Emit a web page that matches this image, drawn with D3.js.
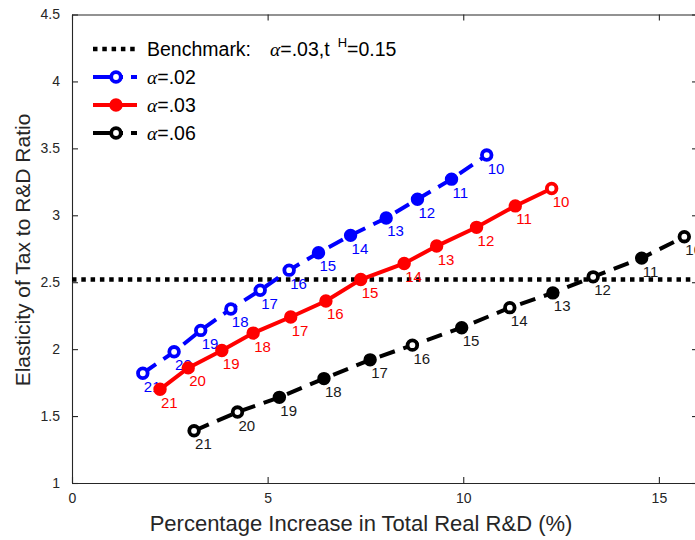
<!DOCTYPE html>
<html>
<head>
<meta charset="utf-8">
<script src="https://cdn.jsdelivr.net/npm/d3@7"></script>
<style>
  body { margin: 0; background: #fff; }
  svg { display: block; }
  text { font-family: "Liberation Sans", Arial, Helvetica, sans-serif; }
</style>
</head>
<body>
<svg id="svg" width="695" height="540"></svg>
<script>
// period labels shown next to each point
const periods = [21, 20, 19, 18, 17, 16, 15, 14, 13, 12, 11, 10]

// alpha = .02
const blueX = [1.81, 2.61, 3.29, 4.06, 4.81, 5.55, 6.30, 7.12, 8.03, 8.83, 9.70, 10.60]
const blueY = [1.82, 1.98, 2.14, 2.30, 2.44, 2.59, 2.72, 2.85, 2.98, 3.12, 3.27, 3.45]
// alpha = .03
const redX = [2.25, 2.97, 3.83, 4.63, 5.59, 6.49, 7.38, 8.49, 9.32, 10.34, 11.33, 12.26]
const redY = [1.70, 1.86, 1.99, 2.12, 2.24, 2.36, 2.52, 2.64, 2.77, 2.91, 3.07, 3.20]
// alpha = .06
const blackX = [3.12, 4.23, 5.30, 6.44, 7.62, 8.70, 9.96, 11.19, 12.29, 13.32, 14.56, 15.65]
const blackY = [1.39, 1.53, 1.64, 1.78, 1.92, 2.03, 2.16, 2.31, 2.42, 2.54, 2.68, 2.84]

// points whose marker shows an open centre in the picture
const blueOpen = [21, 20, 19, 18, 17, 16, 10]
const redOpen = [10]
const blackOpen = [21, 20, 16, 14, 12, 10]

const benchmark = 2.52

const xTicks = [0, 5, 10, 15]
const yTicks = [1, 1.5, 2, 2.5, 3, 3.5, 4, 4.5]

const svg = d3.select("#svg")
const padL = 72, padR = 698, padT = 14.5, padB = 483
const axisColor = "#262626"

const x = d3.scaleLinear().domain([0, 16]).range([padL, padR])
const y = d3.scaleLinear().domain([1, 4.5]).range([padB, padT])

// axes box with inward ticks
const tickFmt = d => d3.format("")(d)
svg.append("g").attr("transform", `translate(0,${padB})`)
  .call(d3.axisBottom(x).tickValues(xTicks).tickSizeInner(-6).tickSizeOuter(0).tickPadding(10).tickFormat(tickFmt))
svg.append("g").attr("transform", `translate(0,${padT})`)
  .call(d3.axisTop(x).tickValues(xTicks).tickSizeInner(-6).tickSizeOuter(0).tickFormat(""))
svg.append("g").attr("transform", `translate(${padL},0)`)
  .call(d3.axisLeft(y).tickValues(yTicks).tickSizeInner(-6).tickSizeOuter(0).tickPadding(12).tickFormat(tickFmt))
svg.append("g").attr("transform", `translate(${padR},0)`)
  .call(d3.axisRight(y).tickValues(yTicks).tickSizeInner(-6).tickSizeOuter(0).tickFormat(""))

svg.selectAll(".domain").attr("stroke", axisColor).attr("stroke-width", 1.1)
svg.selectAll(".tick line").attr("stroke", axisColor).attr("stroke-width", 1.1)
svg.selectAll(".tick text").attr("fill", axisColor).style("font-size", "14px")
  .style("font-family", '"Liberation Sans", Arial, sans-serif')

// axis titles
svg.append("text")
  .attr("x", 361).attr("y", 531)
  .attr("text-anchor", "middle")
  .attr("fill", axisColor)
  .style("font-size", "22px")
  .text("Percentage Increase in Total Real R&D (%)")

svg.append("text")
  .attr("transform", "translate(30,250) rotate(-90)")
  .attr("text-anchor", "middle")
  .attr("fill", axisColor)
  .style("font-size", "21px")
  .text("Elasticity of Tax to R&D Ratio")

// benchmark line
svg.append("line")
  .attr("x1", padL).attr("x2", padR)
  .attr("y1", y(benchmark)).attr("y2", y(benchmark))
  .attr("stroke", "#000").attr("stroke-width", 4.5)
  .attr("stroke-dasharray", "4.5,4.8")

const series = [
  {xs: blueX, ys: blueY, open: blueOpen, color: "#0000ff", dash: "16,9"},
  {xs: redX, ys: redY, open: redOpen, color: "#ff0000", dash: null},
  {xs: blackX, ys: blackY, open: blackOpen, color: "#000000", dash: "16,9"}
]

const line = d3.line().x(d => x(d.x)).y(d => y(d.y))

series.forEach(s => {
  const pts = periods.map((p, i) => ({p: p, x: s.xs[i], y: s.ys[i]}))
  const g = svg.append("g")
  g.append("path")
    .datum(pts)
    .attr("d", line)
    .attr("fill", "none")
    .attr("stroke", s.color)
    .attr("stroke-width", 4)
    .attr("stroke-dasharray", s.dash)

  g.selectAll("circle").data(pts).enter().append("circle")
    .attr("cx", d => x(d.x))
    .attr("cy", d => y(d.y))
    .attr("r", 4.8)
    .attr("stroke", s.color)
    .attr("stroke-width", 3.8)
    .attr("fill", d => s.open.includes(d.p) ? "#fff" : s.color)

  g.selectAll("text").data(pts).enter().append("text")
    .attr("x", d => x(d.x) + 1)
    .attr("y", d => y(d.y) + 18.5)
    .attr("fill", s.color === "#000000" ? "#1a1a1a" : s.color)
    .style("font-size", "15px")
    .text(d => d.p)
})

// legend
const legend = svg.append("g")
const lx0 = 93, lx1 = 137, lxm = 116, tx = 147
const rows = [49, 77, 105, 133]

legend.append("line")
  .attr("x1", lx0).attr("x2", lx1).attr("y1", rows[0]).attr("y2", rows[0])
  .attr("stroke", "#000").attr("stroke-width", 4.5).attr("stroke-dasharray", "4.5,4.8")

const bench = legend.append("text").attr("x", tx).attr("y", rows[0] + 7)
  .attr("fill", "#000").style("font-size", "19.5px")
bench.append("tspan").text("Benchmark:")
bench.append("tspan").attr("dx", 19).style("font-family", '"Liberation Serif", "DejaVu Serif", serif')
  .style("font-style", "italic").text("α")
bench.append("tspan").text("=.03,t")
bench.append("tspan").attr("dx", 8).attr("dy", -9.3).style("font-size", "13px").text("H")
bench.append("tspan").attr("dy", 9.3).text("=0.15")

const legendItems = [
  {color: "#0000ff", dash: "16,9", open: true, label: "=.02"},
  {color: "#ff0000", dash: null, open: false, label: "=.03"},
  {color: "#000000", dash: "16,9", open: true, label: "=.06"}
]

legendItems.forEach((it, i) => {
  const ly = rows[i + 1]
  legend.append("line")
    .attr("x1", lx0).attr("x2", lx1).attr("y1", ly).attr("y2", ly)
    .attr("stroke", it.color).attr("stroke-width", 4)
    .attr("stroke-dasharray", it.dash ? "30,8" : null)
  legend.append("circle")
    .attr("cx", lxm).attr("cy", ly).attr("r", 4.8)
    .attr("stroke", it.color).attr("stroke-width", 3.8)
    .attr("fill", it.open ? "#fff" : it.color)
  const t = legend.append("text").attr("x", tx).attr("y", ly + 7)
    .attr("fill", "#000").style("font-size", "19.5px")
  t.append("tspan").style("font-family", '"Liberation Serif", "DejaVu Serif", serif')
    .style("font-style", "italic").text("α")
  t.append("tspan").text(it.label)
})
</script>
</body>
</html>
